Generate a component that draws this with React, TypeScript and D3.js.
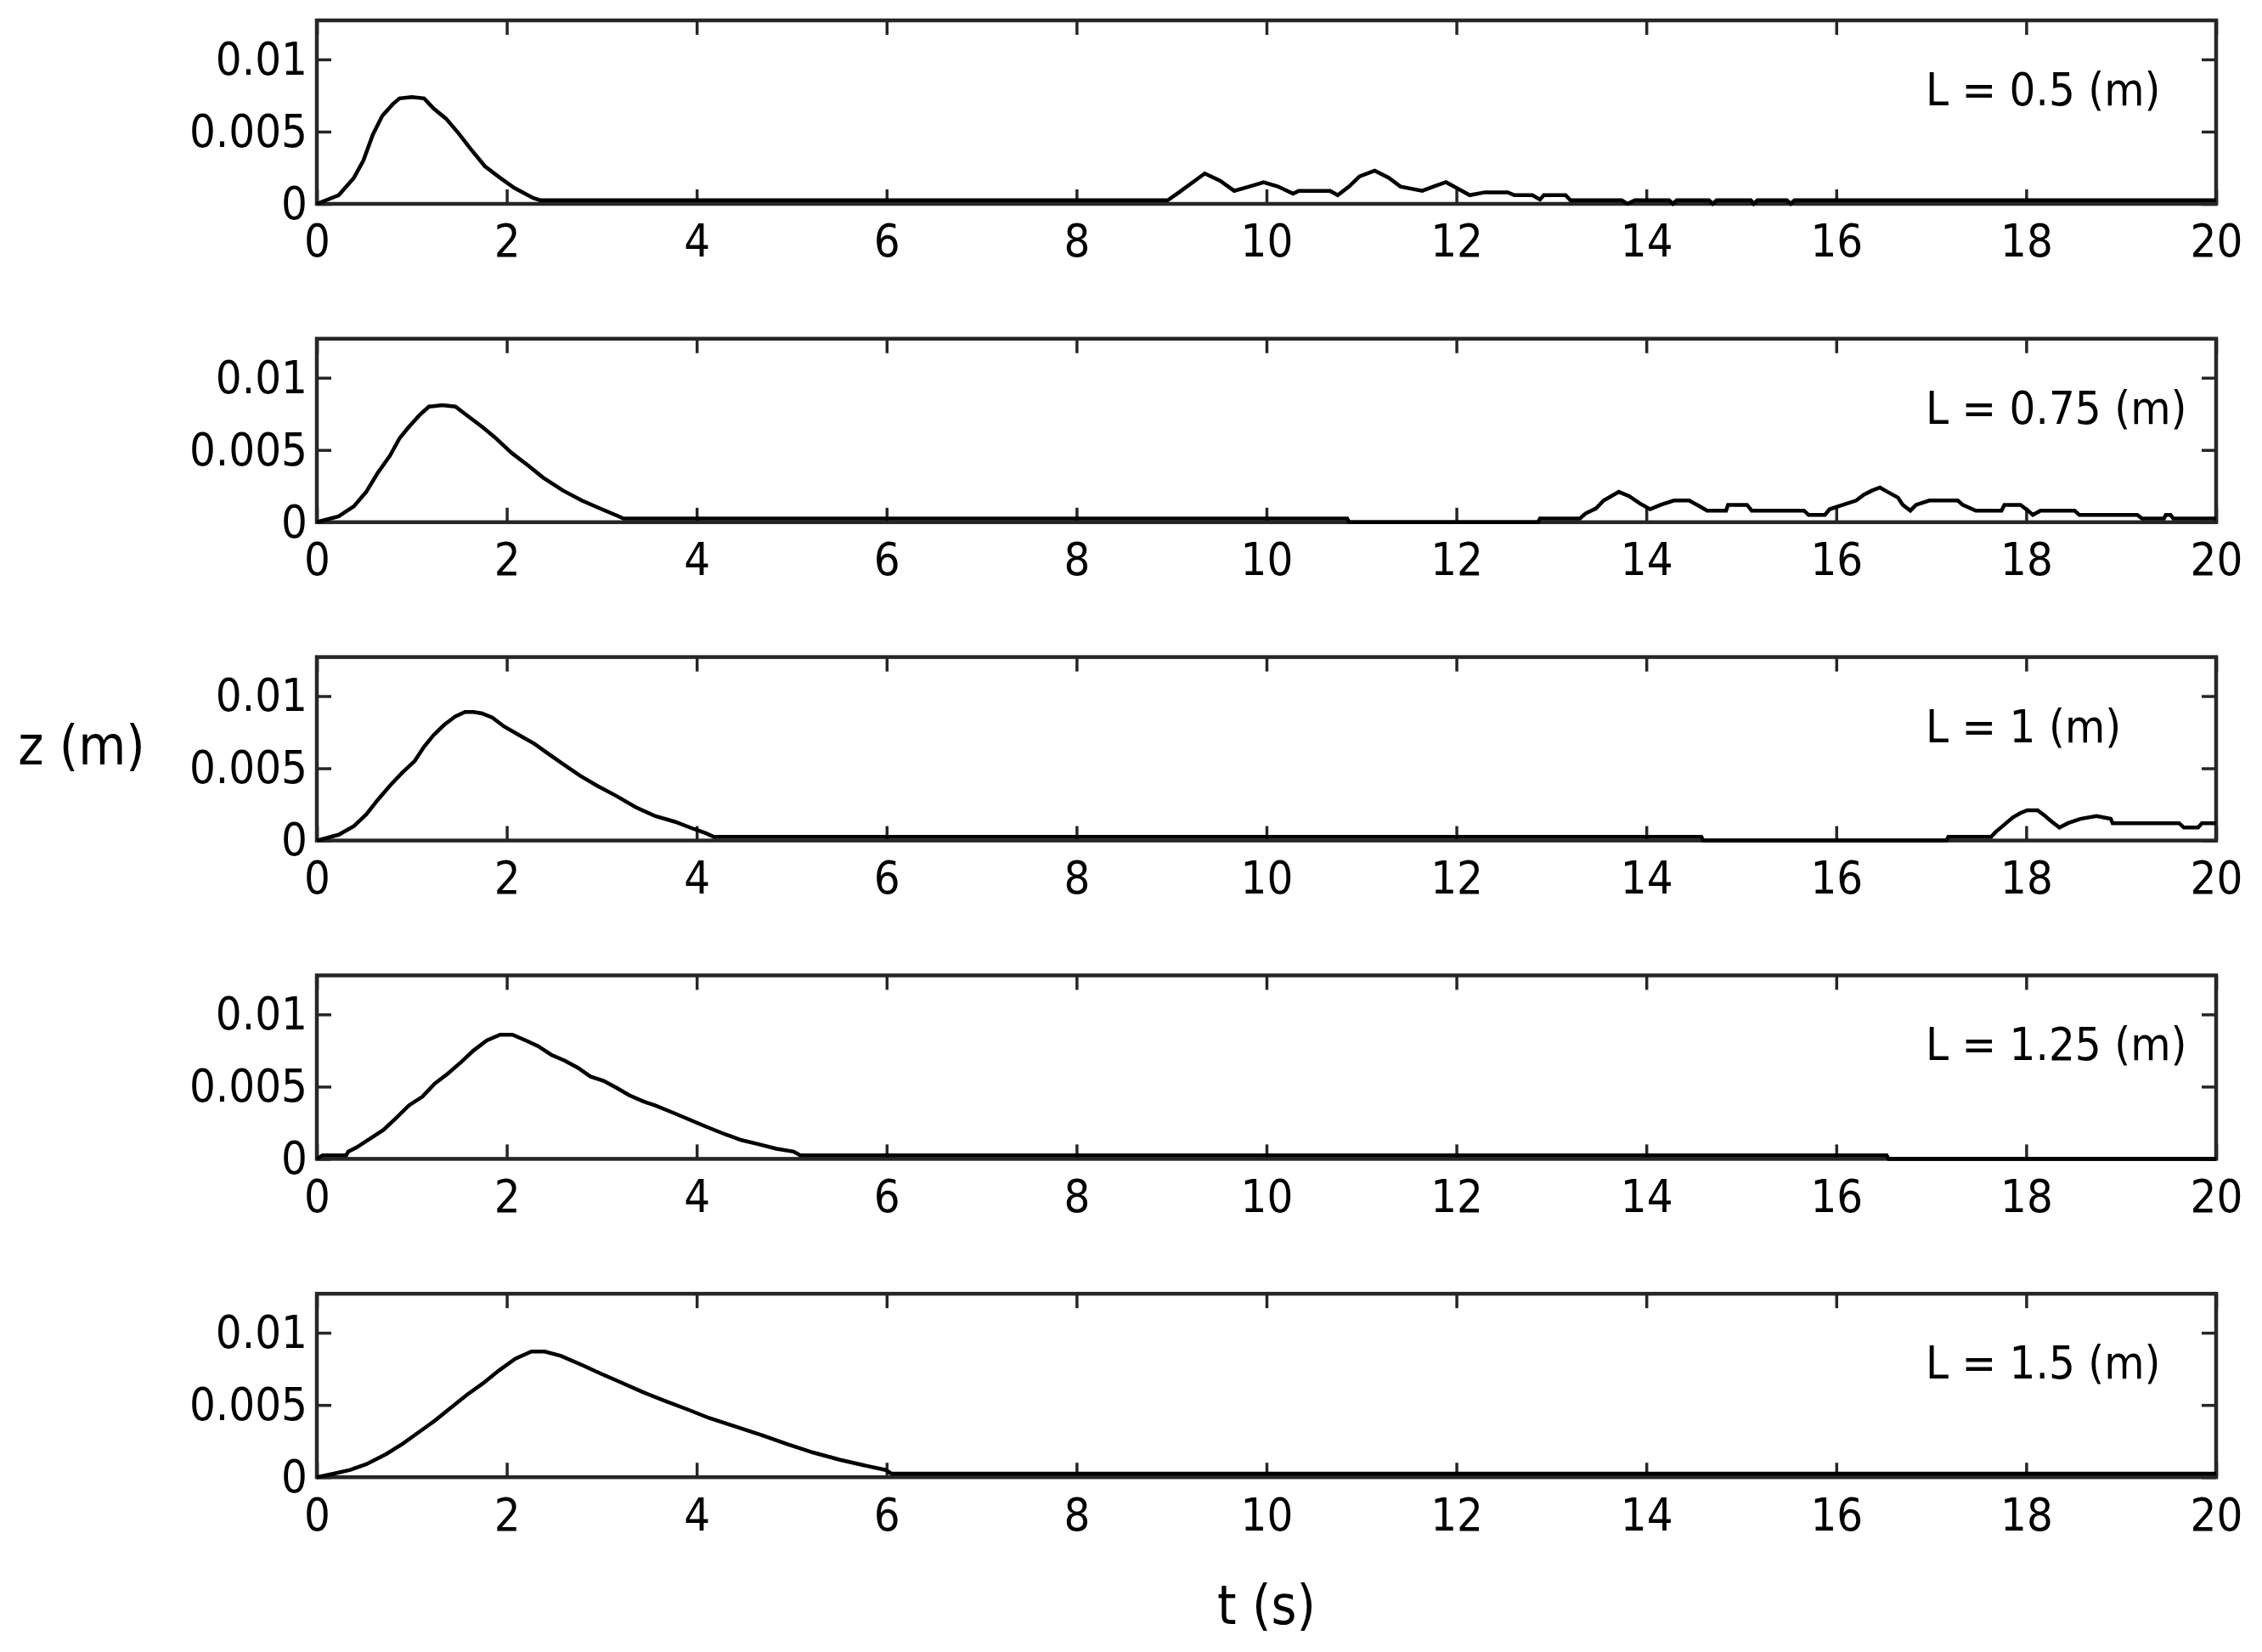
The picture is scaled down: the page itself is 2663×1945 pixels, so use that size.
import React, { useEffect, useRef } from "react";
import * as d3 from "d3";

// time axis (s) and surface elevation ticks (m)
const tTicks = [0, 2, 4, 6, 8, 10, 12, 14, 16, 18, 20];
const zTicks = [0, 0.005, 0.01];
const zMax = 0.0127;

const panelLabels = ["L = 0.5 (m)", "L = 0.75 (m)", "L = 1 (m)", "L = 1.25 (m)", "L = 1.5 (m)"];

// [t, z]
const waveL050: [number, number][] = [
  [0, 0], [0.23, 0.0006], [0.39, 0.0018], [0.49, 0.003], [0.59, 0.0048], [0.69, 0.0061],
  [0.8, 0.0069], [0.87, 0.0073], [1.0, 0.0074], [1.13, 0.0073], [1.23, 0.0066], [1.36, 0.0059],
  [1.49, 0.0049], [1.62, 0.0038], [1.77, 0.0026], [1.93, 0.0018], [2.08, 0.0011], [2.28, 0.0004],
  [2.35, 0.00025], [8.96, 0.00025], [9.08, 0.0008], [9.35, 0.0021], [9.51, 0.0016], [9.66, 0.0009],
  [9.82, 0.0012], [9.97, 0.0015], [10.12, 0.0012], [10.28, 0.0007], [10.34, 0.0009], [10.67, 0.0009],
  [10.75, 0.0006], [10.87, 0.0012], [10.98, 0.0019], [11.14, 0.0023], [11.29, 0.0018], [11.41, 0.0012],
  [11.64, 0.0009], [11.76, 0.0012], [11.89, 0.0015], [12.03, 0.001], [12.14, 0.0006], [12.3, 0.0008],
  [12.54, 0.0008], [12.61, 0.0006], [12.8, 0.0006], [12.88, 0.0003], [12.92, 0.0006], [13.15, 0.0006],
  [13.2, 0.00025], [13.74, 0.00025], [13.8, 0], [13.88, 0.00025], [14.24, 0.00025], [14.28, 0],
  [14.32, 0.00025], [14.66, 0.00025], [14.7, 0], [14.74, 0.00025], [15.1, 0.00025], [15.13, 0],
  [15.17, 0.00025], [15.48, 0.00025], [15.52, 0], [15.56, 0.00025], [20, 0.00025],
];

const waveL075: [number, number][] = [
  [0, 0], [0.23, 0.0004], [0.39, 0.0011], [0.52, 0.0021], [0.64, 0.0034], [0.77, 0.0046],
  [0.87, 0.0058], [0.97, 0.0066], [1.08, 0.0074], [1.18, 0.008], [1.32, 0.0081], [1.46, 0.008],
  [1.56, 0.0075], [1.74, 0.0066], [1.87, 0.0059], [2.05, 0.0048], [2.23, 0.0039], [2.38, 0.0031],
  [2.59, 0.0022], [2.79, 0.0015], [3.0, 0.0009], [3.18, 0.0004], [3.23, 0.00025], [10.85, 0.00025],
  [10.87, 0], [12.86, 0], [12.88, 0.00025], [13.3, 0.00025], [13.36, 0.0006], [13.47, 0.00095],
  [13.55, 0.0015], [13.63, 0.0018], [13.71, 0.0021], [13.82, 0.0018], [13.93, 0.0013], [14.04, 0.0009],
  [14.15, 0.0012], [14.29, 0.0015], [14.45, 0.0015], [14.56, 0.0011], [14.64, 0.0008], [14.84, 0.0008],
  [14.86, 0.0012], [15.06, 0.0012], [15.11, 0.0008], [15.66, 0.0008], [15.71, 0.0005], [15.88, 0.0005],
  [15.93, 0.0009], [16.07, 0.0012], [16.21, 0.0015], [16.29, 0.0019], [16.38, 0.0022], [16.46, 0.0024],
  [16.54, 0.0021], [16.65, 0.0017], [16.7, 0.0012], [16.78, 0.0008], [16.84, 0.0012], [16.98, 0.0015],
  [17.28, 0.0015], [17.33, 0.0012], [17.47, 0.0008], [17.74, 0.0008], [17.77, 0.0012], [17.94, 0.0012],
  [18.02, 0.0008], [18.07, 0.0005], [18.15, 0.0008], [18.51, 0.0008], [18.56, 0.0005], [19.17, 0.0005],
  [19.22, 0.00025], [19.45, 0.00025], [19.47, 0.0005], [19.52, 0.0005], [19.55, 0.00025], [20, 0.00025],
];

const waveL100: [number, number][] = [
  [0, 0], [0.23, 0.0004], [0.39, 0.001], [0.52, 0.0018], [0.64, 0.0028], [0.77, 0.0038],
  [0.9, 0.0047], [1.03, 0.0055], [1.13, 0.0065], [1.23, 0.0073], [1.34, 0.008], [1.46, 0.0086],
  [1.56, 0.0089], [1.65, 0.0089], [1.74, 0.0088], [1.85, 0.0085], [1.97, 0.0079], [2.13, 0.0073],
  [2.29, 0.0067], [2.44, 0.006], [2.59, 0.0053], [2.77, 0.0045], [2.95, 0.0038], [3.15, 0.0031],
  [3.36, 0.0023], [3.56, 0.0017], [3.77, 0.0013], [3.97, 0.0008], [4.1, 0.0005], [4.18, 0.00025],
  [14.58, 0.00025], [14.6, 0], [17.16, 0], [17.18, 0.00025], [17.63, 0.00025], [17.68, 0.0006],
  [17.77, 0.0011], [17.86, 0.0016], [17.94, 0.0019], [18.01, 0.0021], [18.12, 0.0021], [18.2, 0.0017],
  [18.27, 0.0013], [18.35, 0.0009], [18.44, 0.0012], [18.57, 0.0015], [18.74, 0.0017], [18.89, 0.0015],
  [18.91, 0.0012], [19.61, 0.0012], [19.66, 0.0009], [19.81, 0.0009], [19.85, 0.0012], [20, 0.0012],
];

const waveL125: [number, number][] = [
  [0, 0], [0.06, 0.00025], [0.31, 0.00025], [0.33, 0.0005], [0.42, 0.0008], [0.56, 0.0014],
  [0.7, 0.002], [0.83, 0.0028], [0.97, 0.0037], [1.11, 0.0043], [1.24, 0.0052], [1.38, 0.0059],
  [1.52, 0.0067], [1.65, 0.0075], [1.79, 0.0082], [1.93, 0.0086], [2.06, 0.0086], [2.2, 0.0082],
  [2.33, 0.0078], [2.47, 0.0072], [2.61, 0.0068], [2.75, 0.0063], [2.88, 0.0057], [3.02, 0.0054],
  [3.16, 0.0049], [3.29, 0.0044], [3.43, 0.004], [3.56, 0.0037], [3.75, 0.0032], [3.93, 0.0027],
  [4.11, 0.0022], [4.3, 0.0017], [4.47, 0.0013], [4.66, 0.001], [4.84, 0.0007], [5.02, 0.0005],
  [5.09, 0.00025], [16.53, 0.00025], [16.55, 0], [20, 0],
];

const waveL150: [number, number][] = [
  [0, 0], [0.18, 0.00025], [0.35, 0.0005], [0.52, 0.0009], [0.73, 0.0016], [0.9, 0.0023],
  [1.07, 0.0031], [1.24, 0.0039], [1.41, 0.0048], [1.58, 0.0057], [1.75, 0.0065], [1.92, 0.0074],
  [2.09, 0.0082], [2.26, 0.0087], [2.4, 0.0087], [2.57, 0.0084], [2.78, 0.0078], [2.98, 0.0072],
  [3.19, 0.0066], [3.43, 0.0059], [3.66, 0.0053], [3.9, 0.0047], [4.13, 0.0041], [4.41, 0.0035],
  [4.69, 0.0029], [4.95, 0.0023], [5.23, 0.0017], [5.51, 0.0012], [5.78, 0.0008], [5.99, 0.0005],
  [6.05, 0.00025], [20, 0.00025],
];

const panelWaves = [waveL050, waveL075, waveL100, waveL125, waveL150];

const W = 2663;
const H = 1945;
const FONT = "'DejaVu Sans Condensed', 'DejaVu Sans', sans-serif";
const AXIS_COLOR = "#262626";

export default function App() {
  const ref = useRef<SVGSVGElement>(null);

  useEffect(() => {
    const svg = d3.select(ref.current);
    svg.selectAll("*").remove();

    const left = 373;
    const right = 2609;
    const panelH = 216;
    const firstTop = 24;
    const step = 374.8;
    const tick = 17;

    const x = d3.scaleLinear().domain([0, 20]).range([left, right]);

    panelWaves.forEach((wave, i) => {
      const top = firstTop + i * step;
      const bottom = top + panelH;
      const y = d3.scaleLinear().domain([0, zMax]).range([bottom, top]);
      const g = svg.append("g");

      const styleAxis = (sel: any, withText: boolean) => {
        sel.select(".domain").remove();
        sel.selectAll(".tick line").attr("stroke", AXIS_COLOR).attr("stroke-width", 3.5);
        sel
          .selectAll(".tick text")
          .attr("fill", "#000")
          .attr("font-family", FONT)
          .attr("font-stretch", "condensed")
          .attr("font-size", 54)
          .style("display", withText ? null : "none");
      };

      g.append("g")
        .attr("transform", `translate(0, ${bottom})`)
        .call(d3.axisBottom(x).tickValues(tTicks).tickSize(-tick).tickPadding(24).tickFormat((d: any) => String(d)))
        .call((s: any) => styleAxis(s, true));

      g.append("g")
        .attr("transform", `translate(0, ${top})`)
        .call(d3.axisTop(x).tickValues(tTicks).tickSize(-tick))
        .call((s: any) => styleAxis(s, false));

      g.append("g")
        .attr("transform", `translate(${left}, 0)`)
        .call(d3.axisLeft(y).tickValues(zTicks).tickSize(-tick).tickPadding(11).tickFormat((d: any) => String(d)))
        .call((s: any) => styleAxis(s, true));

      g.append("g")
        .attr("transform", `translate(${right}, 0)`)
        .call(d3.axisRight(y).tickValues(zTicks).tickSize(-tick))
        .call((s: any) => styleAxis(s, false));

      g.append("rect")
        .attr("x", left)
        .attr("y", top)
        .attr("width", right - left)
        .attr("height", panelH)
        .attr("fill", "none")
        .attr("stroke", AXIS_COLOR)
        .attr("stroke-width", 4.5);

      const line = d3
        .line<[number, number]>()
        .x((d) => x(d[0]))
        .y((d) => y(d[1]));

      g.append("path")
        .attr("d", line(wave))
        .attr("fill", "none")
        .attr("stroke", "#000")
        .attr("stroke-width", 4.5);

      g.append("text")
        .attr("x", 2267)
        .attr("y", top + 100)
        .attr("font-family", FONT)
        .attr("font-stretch", "condensed")
        .attr("font-size", 54)
        .attr("fill", "#000")
        .text(panelLabels[i]);
    });

    svg
      .append("text")
      .attr("x", 96)
      .attr("y", 900)
      .attr("text-anchor", "middle")
      .attr("font-family", FONT)
      .attr("font-stretch", "condensed")
      .attr("font-size", 64)
      .attr("fill", "#000")
      .text("z (m)");

    svg
      .append("text")
      .attr("x", (left + right) / 2)
      .attr("y", 1912)
      .attr("text-anchor", "middle")
      .attr("font-family", FONT)
      .attr("font-stretch", "condensed")
      .attr("font-size", 64)
      .attr("fill", "#000")
      .text("t (s)");
  }, []);

  return (
    <svg
      ref={ref}
      width={W}
      height={H}
      style={{ position: "absolute", left: 0, top: 0, background: "#fff" }}
    ></svg>
  );
}
